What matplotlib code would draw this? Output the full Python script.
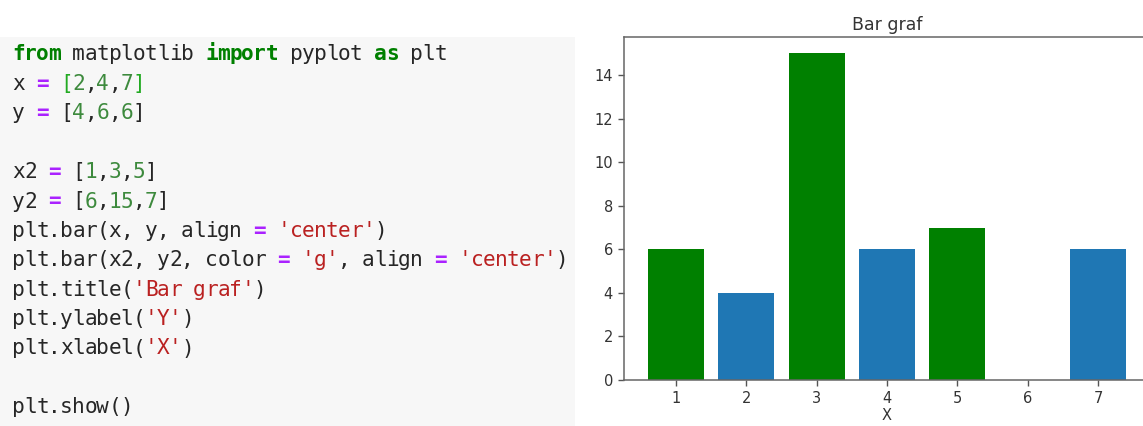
import matplotlib
matplotlib.use('Agg')
import matplotlib.pyplot as plt
from matplotlib.patches import Rectangle

# chart data
x = [2, 4, 7]
y = [4, 6, 6]
x2 = [1, 3, 5]
y2 = [6, 15, 7]

title = 'Bar graf'
xlabel = 'X'

# code panel: each line is a list of (text, style) tokens
K, N, OP, NUM, STR, BR = 'kw', 'n', 'op', 'num', 'str', 'br'
code_lines = [
    [('from', K), (' matplotlib ', N), ('import', K), (' pyplot ', N), ('as', K), (' plt', N)],
    [('x ', N), ('=', OP), (' ', N), ('[', BR), ('2', NUM), (',', N), ('4', NUM), (',', N), ('7', NUM), (']', BR)],
    [('y ', N), ('=', OP), (' [', N), ('4', NUM), (',', N), ('6', NUM), (',', N), ('6', NUM), (']', N)],
    [],
    [('x2 ', N), ('=', OP), (' [', N), ('1', NUM), (',', N), ('3', NUM), (',', N), ('5', NUM), (']', N)],
    [('y2 ', N), ('=', OP), (' [', N), ('6', NUM), (',', N), ('15', NUM), (',', N), ('7', NUM), (']', N)],
    [('plt.bar(x, y, align ', N), ('=', OP), (' ', N), ("'center'", STR), (')', N)],
    [('plt.bar(x2, y2, color ', N), ('=', OP), (' ', N), ("'g'", STR), (', align ', N), ('=', OP), (' ', N), ("'center'", STR), (')', N)],
    [('plt.title(', N), ("'Bar graf'", STR), (')', N)],
    [('plt.ylabel(', N), ("'Y'", STR), (')', N)],
    [('plt.xlabel(', N), ("'X'", STR), (')', N)],
    [],
    [('plt.show()', N)],
]

styles = {
    K: ('#008000', 'bold'),
    N: ('#262626', 'normal'),
    OP: ('#aa22ff', 'bold'),
    NUM: ('#3d8a3d', 'normal'),
    STR: ('#ba2121', 'normal'),
    BR: ('#22aa22', 'normal'),
}

W, H = 1143, 426
fig = plt.figure(figsize=(W / 100, H / 100), dpi=100)
fig.patch.set_facecolor('white')

# gray code cell background
fig.patches.append(Rectangle((0, 0), 575 / W, (H - 37) / H, transform=fig.transFigure,
                             facecolor='#f7f7f7', edgecolor='none', zorder=0))

fs = 15.2
char_w = 12.07
x0 = 12
y_first = 53 + 7.5   # baseline of first line, px from top
line_h = 29.4
for i, line in enumerate(code_lines):
    col = 0
    yy = 1 - (y_first + i * line_h) / H
    for txt, st in line:
        color, weight = styles[st]
        # place char by char so spacing matches the screenshot's narrower font
        for ch in txt:
            if ch != ' ':
                fig.text((x0 + col * char_w) / W, yy, ch, family='DejaVu Sans Mono',
                         fontsize=fs, color=color, fontweight=weight, va='baseline', ha='left')
            col += 1

# bar chart
ax = fig.add_axes([624 / W, (H - 380) / H, 526 / W, 343 / H])
ax.bar(x, y, align='center')
ax.bar(x2, y2, color='g', align='center')
ax.set_title(title, fontsize=12.5, color='#333333', pad=5)
ax.set_xlabel(xlabel, fontsize=10.5, color='#333333', labelpad=1)

ax.tick_params(labelsize=10.5, labelcolor='#333333', color='#555555', length=4.5, width=1)
for s in ax.spines.values():
    s.set_color('#666666')
    s.set_linewidth(1.1)

plt.savefig('out.png', dpi=100)
